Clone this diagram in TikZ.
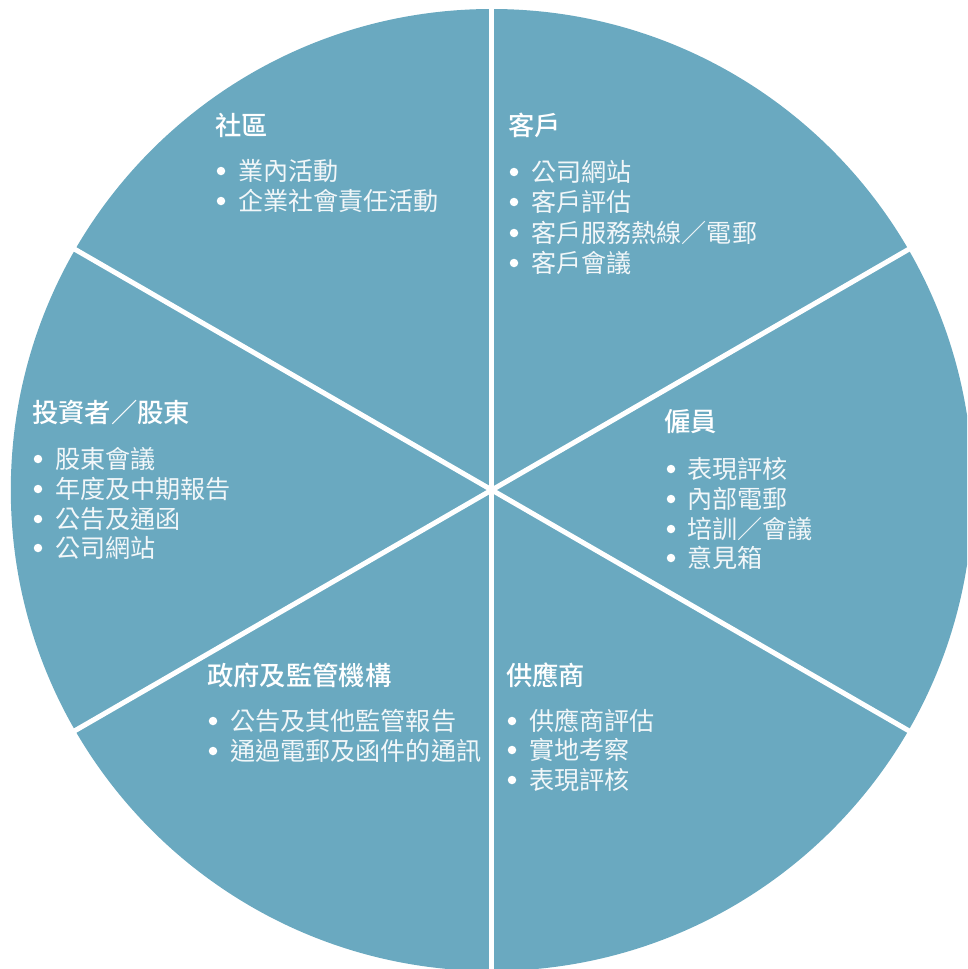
\documentclass[tikz,border=0pt]{standalone}
\usepackage{fontspec}
\usetikzlibrary{calc}
\newfontfamily\cjk{Noto Sans CJK TC}
\newfontfamily\cjkbold{Noto Sans CJK TC Medium}
\definecolor{pie}{HTML}{6AA9C0}
\definecolor{itemtext}{HTML}{F2F7F9}
\tikzset{
  ttl/.style={anchor=west, inner sep=0pt, text=white, font=\cjkbold\fontsize{26.3}{30}\selectfont},
  itm/.style={anchor=west, inner sep=0pt, text=itemtext, font=\cjk\fontsize{25.1}{30}\selectfont},
  dot/.style={circle, fill=white, inner sep=0pt, minimum size=8.5pt},
  divider/.style={draw=white, line width=5pt}
}
\begin{document}
\begin{tikzpicture}[x=1pt,y=-1pt]
\useasboundingbox (0,0) rectangle (967,969);
\begin{scope}
\clip (0,0) rectangle (967,969);
\fill[pie] (491.8,490) circle (481);
\coordinate (c) at (491.8,490);
\foreach \a [count=\i] in {30,90,150,210,270,330}{
  \coordinate (e\i) at ($(c)+(\a:520)$);
  \draw[divider] (c) -- (e\i);
}
\end{scope}
% 社區
\node[ttl] (t1) at (215,125) {社區};
\node[dot] (b11) at (221,171) {}; \node[itm] (i11) at (238,171) {業內活動};
\node[dot] (b12) at (221,201) {}; \node[itm] (i12) at (238,201) {企業社會責任活動};
% 客戶
\node[ttl] (t2) at (508,125) {客戶};
\node[dot] (b21) at (514,172) {}; \node[itm] (i21) at (531,172) {公司網站};
\node[dot] (b22) at (514,202) {}; \node[itm] (i22) at (531,202) {客戶評估};
\node[dot] (b23) at (514,233) {}; \node[itm] (i23) at (531,233) {客戶服務熱線／電郵};
\node[dot] (b24) at (514,263) {}; \node[itm] (i24) at (531,263) {客戶會議};
% 投資者／股東
\node[ttl] (t3) at (32,413) {投資者／股東};
\node[dot] (b31) at (38,459) {}; \node[itm] (i31) at (55,459) {股東會議};
\node[dot] (b32) at (38,489) {}; \node[itm] (i32) at (55,489) {年度及中期報告};
\node[dot] (b33) at (38,519) {}; \node[itm] (i33) at (55,519) {公告及通函};
\node[dot] (b34) at (38,548) {}; \node[itm] (i34) at (55,548) {公司網站};
% 僱員
\node[ttl] (t4) at (664,422) {僱員};
\node[dot] (b41) at (671,469) {}; \node[itm] (i41) at (687,469) {表現評核};
\node[dot] (b42) at (671,499) {}; \node[itm] (i42) at (687,499) {內部電郵};
\node[dot] (b43) at (671,529) {}; \node[itm] (i43) at (687,529) {培訓／會議};
\node[dot] (b44) at (671,558) {}; \node[itm] (i44) at (687,558) {意見箱};
% 政府及監管機構
\node[ttl] (t5) at (207,675) {政府及監管機構};
\node[dot] (b51) at (213,721) {}; \node[itm] (i51) at (230,721) {公告及其他監管報告};
\node[dot] (b52) at (213,751) {}; \node[itm] (i52) at (230,751) {通過電郵及函件的通訊};
% 供應商
\node[ttl] (t6) at (506,675) {供應商};
\node[dot] (b61) at (512,721) {}; \node[itm] (i61) at (529,721) {供應商評估};
\node[dot] (b62) at (512,750) {}; \node[itm] (i62) at (529,750) {實地考察};
\node[dot] (b63) at (512,780) {}; \node[itm] (i63) at (529,780) {表現評核};
\end{tikzpicture}
\end{document}
